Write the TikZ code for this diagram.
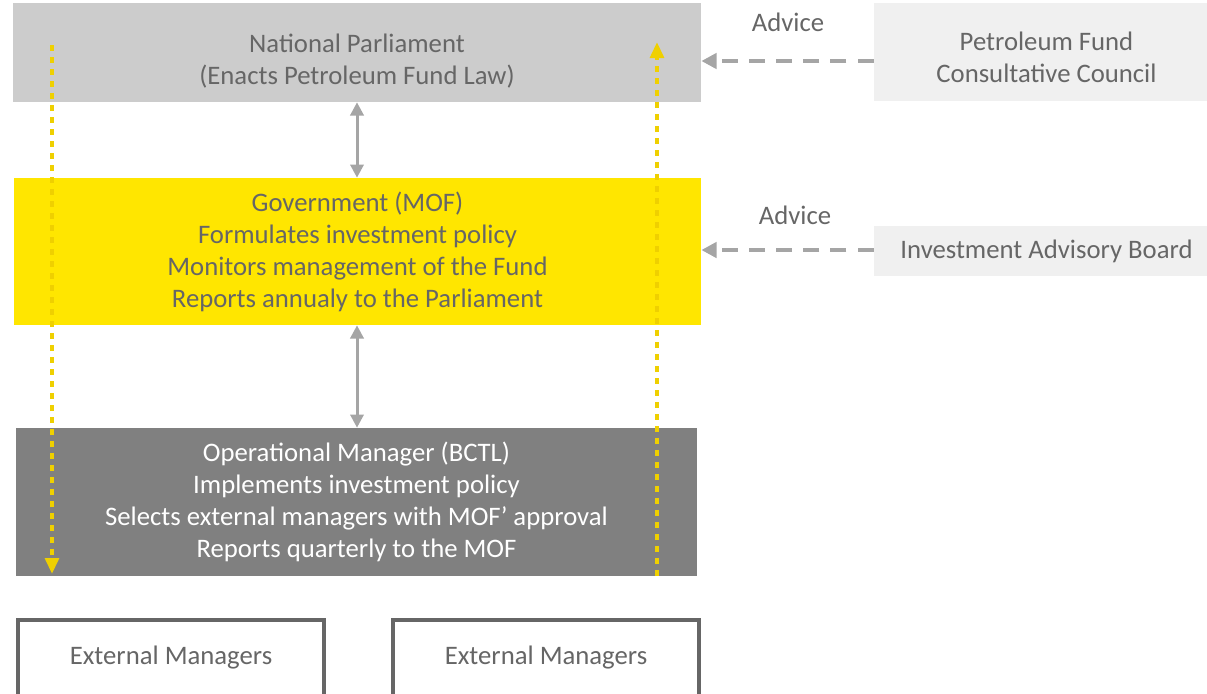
\documentclass[tikz,border=0pt]{standalone}
\usepackage{fontspec}
\setmainfont{Carlito}
\usetikzlibrary{arrows.meta}
\definecolor{txtgray}{HTML}{666666}
\definecolor{parlgray}{HTML}{CCCCCC}
\definecolor{opgray}{HTML}{808080}
\definecolor{eyyellow}{HTML}{FFE600}
\definecolor{dotyellow}{HTML}{EFD000}
\definecolor{arrgray}{HTML}{A5A5A5}
\definecolor{boxlight}{HTML}{F0F0F0}
\begin{document}
\begin{tikzpicture}[x=0.025cm, y=-0.025cm]
  % Define styles
  \tikzstyle{block} = [rectangle, inner sep=0pt, align=center, text=txtgray, font=\fontsize{19}{22.8}\selectfont]
  \tikzstyle{extbox} = [block, draw=txtgray, line width=0.1cm, fill=white, minimum width=7.65cm, minimum height=1.9cm]
  \tikzstyle{advbox} = [block, fill=boxlight, minimum width=8.325cm]
  \tikzstyle{link} = [arrgray, line width=0.075cm, {Triangle[length=0.33cm,width=0.33cm]}-{Triangle[length=0.33cm,width=0.33cm]}]
  \tikzstyle{advice} = [arrgray, line width=0.1cm, dash pattern=on 0.4cm off 0.28cm, -{Triangle[length=0.38cm,width=0.38cm]}]
  \tikzstyle{report} = [dotyellow, line width=0.11cm, dash pattern=on 0.15cm off 0.15cm, -{Triangle[length=0.4cm,width=0.34cm]}]

  \clip (0,0) rectangle (1207,693);

  % Main bodies
  \node[block, fill=parlgray, minimum width=17.2cm, minimum height=2.475cm] (parl) at (357,52.5) {\rule{0pt}{26pt}National Parliament\\(Enacts Petroleum Fund Law)};
  \node[block, fill=eyyellow, minimum width=17.175cm, minimum height=3.675cm] (gov) at (357.5,251.5) {Government (MOF)\\Formulates investment policy\\Monitors management of the Fund\\Reports annualy to the Parliament};
  \node[block, fill=opgray, text=white, minimum width=17.025cm, minimum height=3.7cm] (opm) at (356.5,502) {Operational Manager (BCTL)\\Implements investment policy\\Selects external managers with MOF' approval\\Reports quarterly to the MOF};

  % Advisers
  \node[advbox, minimum height=2.45cm] (pfcc) at (1040.5,52) {\rule{0pt}{21pt}\hspace*{0.3cm}Petroleum Fund\\\hspace*{0.3cm}Consultative Council};
  \node[advbox, minimum height=1.25cm] (iab) at (1040.5,251) {\hspace*{0.3cm}Investment Advisory Board};
  \node[block] (adv1) at (788,22) {Advice};
  \node[block] (adv2) at (795,215) {Advice};

  % External managers
  \node[extbox] (ext1) at (171,658) {External Managers};
  \node[extbox] (ext2) at (546,658) {External Managers};

  % Arrows between bodies
  \draw[link] (parl.south -| 357,0) -- (gov.north -| 357,0);
  \draw[link] (gov.south -| 357,0) -- (opm.north -| 357,0);

  % Advice arrows
  \draw[advice] (pfcc.west |- 0,61) -- (parl.east |- 0,61);
  \draw[advice] (iab.west |- 0,250) -- (gov.east |- 0,250);

  % Reporting loops
  \coordinate (downtop) at (52,45);
  \coordinate (downbot) at (52,574);
  \coordinate (upbot) at (657,576);
  \coordinate (uptop) at (657,42);
  \draw[report] (downtop) -- (downbot);
  \draw[report] (upbot) -- (uptop);
\end{tikzpicture}
\end{document}
